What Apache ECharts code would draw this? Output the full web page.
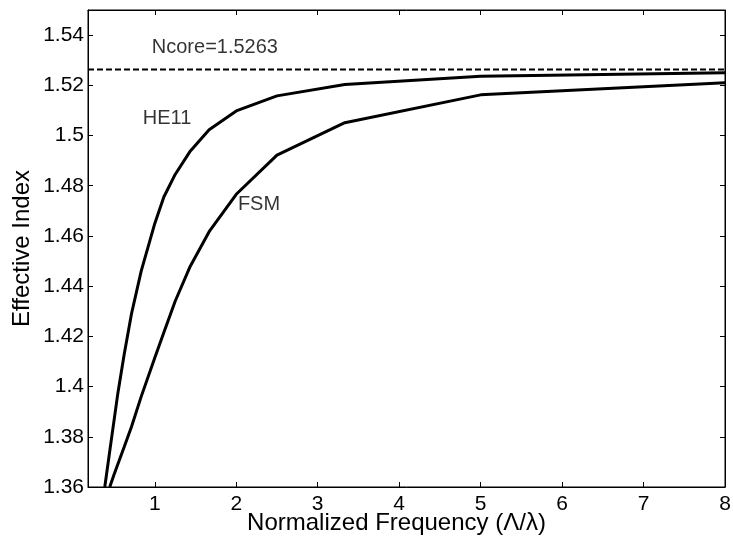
<!DOCTYPE html>
<html>
<head>
<meta charset="utf-8">
<script src="https://cdn.jsdelivr.net/npm/echarts@6/dist/echarts.min.js"></script>
<style>html,body{margin:0;padding:0;background:#fff}#c{width:733px;height:539px}</style>
</head>
<body>
<div id="c"></div>
<script>
var he11X = [0.386, 0.45, 0.545, 0.625, 0.714, 0.833, 1.0, 1.111, 1.25, 1.429, 1.667, 2.0, 2.5, 3.333, 5.0, 8.0];
var he11Y = [1.36, 1.375, 1.397, 1.413, 1.429, 1.446, 1.465, 1.4755, 1.4845, 1.4935, 1.5023, 1.5098, 1.5158, 1.5203, 1.5236, 1.525];
var fsmX = [0.447, 0.5, 0.625, 0.714, 0.833, 1.0, 1.111, 1.25, 1.429, 1.667, 2.0, 2.5, 3.333, 5.0, 8.0];
var fsmY = [1.36, 1.365, 1.376, 1.384, 1.396, 1.4115, 1.4215, 1.434, 1.4475, 1.4617, 1.4766, 1.4922, 1.5051, 1.5162, 1.521];
var nCore = 1.5263;
var xTicks = [1, 2, 3, 4, 5, 6, 7, 8];
var yTicks = [1.36, 1.38, 1.4, 1.42, 1.44, 1.46, 1.48, 1.5, 1.52, 1.54];
var xMin = 0.18, xMax = 8, yMin = 1.36, yMax = 1.55;

function pairs(xs, ys) { return xs.map(function (x, i) { return [x, ys[i]]; }); }

var font = 'Liberation Sans, Arial, sans-serif';
var chart = echarts.init(document.getElementById('c'));
var tickStyle = { show: true, inside: true, length: 5, lineStyle: { color: '#000', width: 1 } };
chart.setOption({
  animation: false,
  backgroundColor: '#fff',
  grid: { left: 88, right: 8, top: 10, bottom: 52, containLabel: false, outerBoundsMode: 'none', show: true, borderColor: '#000', borderWidth: 1, backgroundColor: 'transparent' },
  xAxis: [{
    type: 'value', min: xMin, max: xMax, position: 'bottom',
    name: 'Normalized Frequency (\u039B/\u03BB)', nameLocation: 'middle', nameGap: 24, nameMoveOverlap: false,
    nameTextStyle: { fontFamily: font, fontSize: 24, color: '#000', padding: [0, 20, 0, 0] },
    axisLine: { show: true, lineStyle: { color: '#000', width: 1 } },
    axisTick: Object.assign({ customValues: xTicks }, tickStyle),
    axisLabel: { customValues: xTicks, margin: 7, fontFamily: font, fontSize: 21, color: '#000' },
    splitLine: { show: false }
  }, {
    type: 'value', min: xMin, max: xMax, position: 'top',
    axisLine: { show: true, lineStyle: { color: '#000', width: 1 } },
    axisTick: Object.assign({ customValues: xTicks }, tickStyle),
    axisLabel: { show: false }, splitLine: { show: false }
  }],
  yAxis: [{
    type: 'value', min: yMin, max: yMax, position: 'left',
    name: 'Effective Index', nameLocation: 'middle', nameGap: 54, nameRotate: 90, nameMoveOverlap: false,
    nameTextStyle: { fontFamily: font, fontSize: 24, color: '#000' },
    axisLine: { show: true, lineStyle: { color: '#000', width: 1 } },
    axisTick: Object.assign({ customValues: yTicks }, tickStyle),
    axisLabel: { customValues: yTicks, margin: 4, fontFamily: font, fontSize: 21, color: '#000' },
    splitLine: { show: false }
  }, {
    type: 'value', min: yMin, max: yMax, position: 'right',
    axisLine: { show: true, lineStyle: { color: '#000', width: 1 } },
    axisTick: Object.assign({ customValues: yTicks }, tickStyle),
    axisLabel: { show: false }, splitLine: { show: false }
  }],
  series: [{
    name: 'HE11', type: 'line', data: pairs(he11X, he11Y), showSymbol: false, smooth: false,
    lineStyle: { color: '#000', width: 3 }, clip: true
  }, {
    name: 'FSM', type: 'line', data: pairs(fsmX, fsmY), showSymbol: false, smooth: false,
    lineStyle: { color: '#000', width: 3 }, clip: true
  }, {
    name: 'Ncore', type: 'line', data: [[xMin, nCore], [xMax, nCore]], showSymbol: false,
    lineStyle: { color: '#000', width: 2, type: [6, 3] }
  }, {
    name: 'labels', type: 'scatter', symbolSize: 0,
    data: [
      { value: [0.963, 1.535], label: { formatter: 'Ncore=1.5263' } },
      { value: [0.853, 1.5066], label: { formatter: 'HE11' } },
      { value: [2.02, 1.4726], label: { formatter: 'FSM' } }
    ],
    label: { show: true, position: 'right', distance: 0, fontFamily: font, fontSize: 20, color: '#000' }
  }]
});
</script>
</body>
</html>
